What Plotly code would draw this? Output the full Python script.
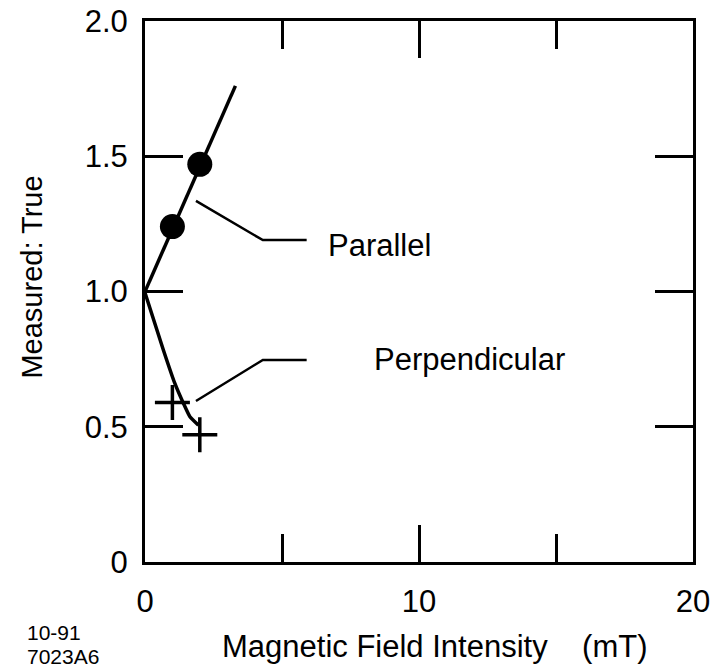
import plotly.graph_objects as go

# Measured:True ratio vs magnetic field (mT)
parallel_x = [1.0, 2.0]
parallel_y = [1.24, 1.47]
parallel_fit_x = [0.0, 3.3]
parallel_fit_y = [1.0, 1.76]

perp_x = [1.0, 2.0]
perp_y = [0.59, 0.47]
perp_fit_x = [0.0, 0.67, 1.09, 1.40, 1.64, 1.95]
perp_fit_y = [0.995, 0.784, 0.66, 0.587, 0.537, 0.506]

# leader lines from curves to the labels
parallel_leader_x = [1.86, 4.3, 5.9]
parallel_leader_y = [1.335, 1.19, 1.19]
perp_leader_x = [1.86, 4.3, 5.9]
perp_leader_y = [0.595, 0.747, 0.747]

x_ticks = [0, 10, 20]
x_minor_ticks = [5, 15]
y_ticks = [0, 0.5, 1.0, 1.5, 2.0]
y_tick_text = ["0", "0.5", "1.0", "1.5", "2.0"]

FONT = "Liberation Sans, Arial, Helvetica, sans-serif"
BLACK = "black"

fig = go.Figure()

fig.add_trace(go.Scatter(x=parallel_fit_x, y=parallel_fit_y, mode="lines",
                         line=dict(color=BLACK, width=3.5), hoverinfo="skip"))
fig.add_trace(go.Scatter(x=perp_fit_x, y=perp_fit_y, mode="lines",
                         line=dict(color=BLACK, width=3.5, shape="spline", smoothing=0.5),
                         hoverinfo="skip"))
fig.add_trace(go.Scatter(x=parallel_leader_x, y=parallel_leader_y, mode="lines",
                         line=dict(color=BLACK, width=2.5), hoverinfo="skip"))
fig.add_trace(go.Scatter(x=perp_leader_x, y=perp_leader_y, mode="lines",
                         line=dict(color=BLACK, width=2.5), hoverinfo="skip"))
fig.add_trace(go.Scatter(x=parallel_x, y=parallel_y, mode="markers", name="Parallel",
                         marker=dict(symbol="circle", size=25, color=BLACK)))
fig.add_trace(go.Scatter(x=perp_x, y=perp_y, mode="markers", name="Perpendicular",
                         marker=dict(symbol="cross-thin", size=25,
                                     line=dict(color=BLACK, width=3.5))))

fig.add_annotation(x=6.6, y=1.17, text="Parallel", showarrow=False,
                   xanchor="left", yanchor="middle", font=dict(size=31))
fig.add_annotation(x=8.3, y=0.747, text="Perpendicular", showarrow=False,
                   xanchor="left", yanchor="middle", font=dict(size=31))

# axis titles placed by hand to sit where the original has them
fig.add_annotation(x=-0.206, y=0.526, xref="paper", yref="paper", text="Measured: True",
                   textangle=-90, showarrow=False, xanchor="center", yanchor="middle",
                   font=dict(size=29))
fig.add_annotation(x=0.53, y=-0.157, xref="paper", yref="paper",
                   text="Magnetic Field Intensity\u00a0\u00a0\u00a0\u00a0(mT)",
                   showarrow=False, xanchor="center", yanchor="middle", font=dict(size=31))
fig.add_annotation(x=-0.219, y=-0.131, xref="paper", yref="paper", text="10-91",
                   showarrow=False, xanchor="left", yanchor="middle", font=dict(size=21))
fig.add_annotation(x=-0.219, y=-0.174, xref="paper", yref="paper", text="7023A6",
                   showarrow=False, xanchor="left", yanchor="middle", font=dict(size=21))

fig.update_xaxes(
    range=[0, 20], tickvals=x_ticks, ticks="inside", ticklen=37, tickwidth=3,
    tickcolor=BLACK, showline=True, linewidth=3, linecolor=BLACK, mirror="ticks",
    showgrid=False, zeroline=False, ticklabelstandoff=10, automargin=False,
    tickfont=dict(size=31), ticklabeloverflow="allow",
    minor=dict(tickvals=x_minor_ticks, ticks="inside", ticklen=28, tickwidth=3,
               tickcolor=BLACK, showgrid=False),
)
fig.update_yaxes(
    range=[0, 2.0], tickvals=y_ticks, ticktext=y_tick_text, ticks="inside",
    ticklen=38, tickwidth=3, tickcolor=BLACK, showline=True, linewidth=3,
    linecolor=BLACK, mirror="ticks", showgrid=False, zeroline=False,
    ticklabelstandoff=8, automargin=False, tickfont=dict(size=31),
    ticklabeloverflow="allow",
)

# page body adds 8px, so margins are trimmed to keep the box where the original has it
fig.update_layout(
    width=726, height=670,
    margin=dict(l=137, r=41, t=13, b=116),
    showlegend=False,
    paper_bgcolor="white", plot_bgcolor="white",
    font=dict(family=FONT, size=30, color=BLACK),
)

fig.write_html("out.html")
